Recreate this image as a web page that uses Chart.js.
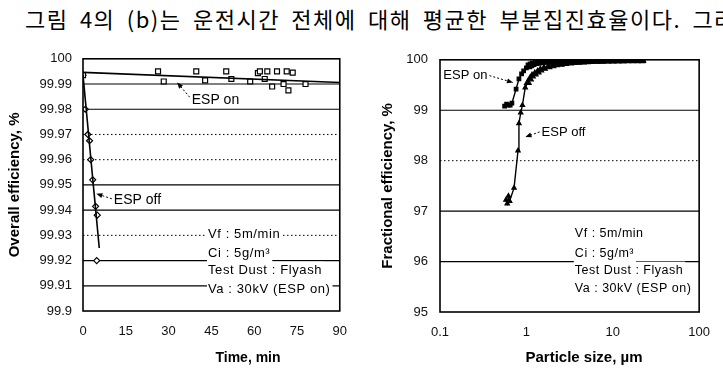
<!DOCTYPE html>
<html><head><meta charset="utf-8">
<script src="https://cdn.jsdelivr.net/npm/chart.js@4.4.1/dist/chart.umd.min.js"></script>
<style>
html,body{margin:0;padding:0;background:#fff;width:723px;height:370px;overflow:hidden;}
#cap{position:absolute;left:25px;top:3px;font-family:"Noto Sans CJK KR";font-size:22px;line-height:30px;white-space:nowrap;letter-spacing:1.5px;word-spacing:5px;color:#000;}
#w1{position:absolute;left:0;top:40px;width:360px;height:330px;}
#w2{position:absolute;left:360px;top:40px;width:363px;height:330px;}
</style></head><body>
<div id="cap">그림 4의 (b)는 운전시간 전체에 대해 평균한 부분집진효율이다. 그러</div>
<div id="w1"><canvas id="c1" width="360" height="330"></canvas></div>
<div id="w2"><canvas id="c2" width="363" height="330"></canvas></div>
<script>
// ---------- (a) Overall efficiency vs time ----------
const timeTicks = [0, 15, 30, 45, 60, 75, 90];
const timeTickLabels = ['0', '15', '30', '45', '60', '75', '90'];
const overallTicks = [99.9, 99.91, 99.92, 99.93, 99.94, 99.95, 99.96, 99.97, 99.98, 99.99, 100];
const overallTickLabels = ['99.9', '99.91', '99.92', '99.93', '99.94', '99.95', '99.96', '99.97', '99.98', '99.99', '100'];
const overallSolidGrid = [99.91, 99.92, 99.94, 99.95, 99.98, 99.99];
const overallDottedGrid = [99.93, 99.96, 99.97];

const espOnTime = [0, 26.3, 28.3, 39.7, 42.8, 50.2, 52, 58.6, 61.3, 62, 63.7, 64.6, 66.3, 68, 70.3, 71.4, 72, 73.5, 78];
const espOnOverall = [99.9935, 99.995, 99.991, 99.995, 99.9914, 99.995, 99.992, 99.991, 99.9943, 99.995, 99.992, 99.995, 99.989, 99.995, 99.990, 99.995, 99.9875, 99.9945, 99.990];
const espOnFitTime = [0, 90];
const espOnFitOverall = [99.9946, 99.9906];

const espOffTime = [0, 0.8, 1.7, 2.3, 2.7, 3.4, 4.4, 5.0, 4.8];
const espOffOverall = [99.9935, 99.98, 99.97, 99.9675, 99.96, 99.952, 99.9415, 99.938, 99.92];
const espOffFitTime = [0, 5.7];
const espOffFitOverall = [99.9935, 99.925];

// ---------- (b) Fractional efficiency vs particle size ----------
const sizeTicks = [0.1, 1, 10, 100];
const sizeTickLabels = ['0.1', '1', '10', '100'];
const fracTicks = [95, 96, 97, 98, 99, 100];
const fracTickLabels = ['95', '96', '97', '98', '99', '100'];
const fracSolidGrid = [96, 97, 99];
const fracDottedGrid = [98];

const espOnSize = [0.56, 0.59, 0.62, 0.65, 0.68, 0.76, 0.82, 0.88, 0.93, 1.0, 1.07, 1.13, 1.2, 1.3, 1.4, 1.5, 1.65, 1.8, 2.0, 2.2, 2.5, 2.8, 3.2, 3.6, 4.0, 4.5, 5.0, 5.6, 6.3, 7.1, 8.0, 9.0, 10, 11.5, 13, 15, 17, 19.5, 22];
const espOnFrac = [99.08, 99.12, 99.1, 99.1, 99.14, 99.42, 99.62, 99.72, 99.78, 99.84, 99.88, 99.9, 99.92, 99.94, 99.95, 99.96, 99.965, 99.97, 99.975, 99.98, 99.982, 99.985, 99.987, 99.989, 99.99, 99.991, 99.992, 99.993, 99.994, 99.994, 99.995, 99.995, 99.996, 99.996, 99.997, 99.997, 99.998, 99.998, 99.998];

const espOffSize = [0.58, 0.6, 0.62, 0.64, 0.72, 0.80, 0.82, 0.86, 0.90, 0.97, 1.04, 1.1, 1.16, 1.25, 1.35, 1.45, 1.6, 1.8, 2.0, 2.2, 2.5, 2.8, 3.2, 3.6, 4.0, 4.5, 5.0, 5.7, 6.5, 7.5, 8.5, 10, 11.5, 13, 15, 17, 19.5, 22];
const espOffFrac = [97.22, 97.15, 97.3, 97.2, 97.46, 98.2, 98.74, 98.95, 99.1, 99.45, 99.55, 99.62, 99.68, 99.72, 99.76, 99.8, 99.83, 99.86, 99.88, 99.9, 99.91, 99.925, 99.935, 99.945, 99.95, 99.955, 99.96, 99.965, 99.97, 99.972, 99.975, 99.977, 99.98, 99.982, 99.984, 99.986, 99.988, 99.99];

const noteLines = ['Vf : 5m/min', 'Ci : 5g/m³', 'Test Dust : Flyash', 'Va : 30kV (ESP on)'];

// ---------- helpers ----------
const FONT = '"Liberation Sans", Arial, sans-serif';
const pts = (xs, ys) => xs.map((x, i) => ({x: x, y: ys[i]}));

function drawArrowLeader(ctx, x0, y0, x1, y1) {
  ctx.save();
  ctx.strokeStyle = '#000';
  ctx.lineWidth = 1;
  ctx.setLineDash([2, 2]);
  ctx.beginPath(); ctx.moveTo(x0, y0); ctx.lineTo(x1, y1); ctx.stroke();
  ctx.setLineDash([]);
  const ang = Math.atan2(y1 - y0, x1 - x0);
  const L = 6, W = 2.5;
  ctx.fillStyle = '#000';
  ctx.beginPath();
  ctx.moveTo(x1, y1);
  ctx.lineTo(x1 - L * Math.cos(ang) + W * Math.sin(ang), y1 - L * Math.sin(ang) - W * Math.cos(ang));
  ctx.lineTo(x1 - L * Math.cos(ang) - W * Math.sin(ang), y1 - L * Math.sin(ang) + W * Math.cos(ang));
  ctx.closePath(); ctx.fill();
  ctx.restore();
}

const deco = {
  id: 'deco',
  beforeDatasetsDraw(chart, args, o) {
    const {ctx, chartArea: a, scales: {x, y}} = chart;
    ctx.save();
    ctx.strokeStyle = '#000';
    ctx.lineWidth = 1.2;
    o.solid.forEach(v => {
      const py = y.getPixelForValue(v);
      ctx.setLineDash([]);
      ctx.beginPath(); ctx.moveTo(a.left, py); ctx.lineTo(a.right, py); ctx.stroke();
    });
    ctx.lineWidth = 1;
    o.dotted.forEach(v => {
      const py = y.getPixelForValue(v);
      ctx.setLineDash([1.5, 2.5]);
      ctx.beginPath(); ctx.moveTo(a.left, py); ctx.lineTo(a.right, py); ctx.stroke();
    });
    ctx.setLineDash([]);
    // note block
    ctx.font = o.noteFont + ' ' + FONT;
    ctx.letterSpacing = o.noteSpacing;
    ctx.textBaseline = 'middle';
    ctx.textAlign = 'left';
    const nx = x.getPixelForValue(o.noteX);
    o.notes.forEach((t, i) => {
      const ny = y.getPixelForValue(o.noteY[i]);
      const w = ctx.measureText(t).width;
      ctx.fillStyle = '#fff';
      ctx.fillRect(nx - 1, ny - 9, w + 3, 18);
      ctx.fillStyle = '#000';
      ctx.fillText(t, nx, ny);
    });
    ctx.restore();
  },
  afterDatasetsDraw(chart, args, o) {
    const {ctx, chartArea: a, scales: {x, y}} = chart;
    ctx.save();
    // frame
    ctx.strokeStyle = '#000';
    ctx.lineWidth = 1.6;
    ctx.strokeRect(a.left, a.top, a.right - a.left, a.bottom - a.top);
    // series labels with leaders
    ctx.font = o.labelFont + ' ' + FONT;
    ctx.textBaseline = 'middle';
    ctx.fillStyle = '#000';
    o.labels.forEach(l => {
      const tx = x.getPixelForValue(l.tx), ty = y.getPixelForValue(l.ty);
      const ax = x.getPixelForValue(l.ax), ay = y.getPixelForValue(l.ay);
      ctx.textAlign = l.align;
      ctx.fillText(l.text, tx, ty);
      const sx = l.align === 'left' ? tx - 2 : tx + 2;
      drawArrowLeader(ctx, sx, ty + l.dy, ax, ay);
    });
    // x-axis title
    ctx.font = o.xTitleFont + ' ' + FONT;
    ctx.textAlign = 'center';
    ctx.fillText(o.xTitle, o.xTitleX, o.xTitleY);
    ctx.restore();
  }
};

function makeChart(id, cfg) {
  return new Chart(document.getElementById(id), {
    type: 'scatter',
    data: {datasets: cfg.datasets},
    plugins: [deco],
    options: {
      responsive: false,
      animation: false,
      layout: {padding: {top: cfg.padTop, right: cfg.padRight, left: 0, bottom: 0}},
      plugins: {legend: {display: false}, tooltip: {enabled: false}, deco: cfg.deco},
      scales: {
        x: {
          type: cfg.xType, min: cfg.xMin, max: cfg.xMax,
          afterFit: s => { s.height = cfg.xAxisH; },
          afterBuildTicks: s => { s.ticks = cfg.xTicks.map(v => ({value: v})); },
          grid: {display: false, drawTicks: false},
          border: {display: false},
          ticks: {
            autoSkip: false, maxRotation: 0, padding: 13, color: '#111',
            font: {family: FONT, size: 13},
            callback: (v, i) => cfg.xLabels[i]
          }
        },
        y: {
          type: 'linear', min: cfg.yMin, max: cfg.yMax,
          afterFit: s => { s.width = cfg.yAxisW; },
          afterBuildTicks: s => { s.ticks = cfg.yTicks.map(v => ({value: v})); },
          grid: {display: false, drawTicks: false},
          border: {display: false},
          ticks: {
            autoSkip: false, padding: cfg.yTickPad, color: '#111',
            font: {family: FONT, size: 13},
            callback: (v, i) => cfg.yLabels[i]
          },
          title: {
            display: true, text: cfg.yTitle, color: '#000',
            font: {family: FONT, size: 15, weight: 'bold'},
            padding: {top: cfg.yTitlePad, bottom: 0}
          }
        }
      }
    }
  });
}

makeChart('c1', {
  xType: 'linear', xMin: 0, xMax: 90, xTicks: timeTicks, xLabels: timeTickLabels,
  yMin: 99.9, yMax: 100, yTicks: overallTicks, yLabels: overallTickLabels,
  yTitle: 'Overall efficiency, %', yTitlePad: 6, yTickPad: 11,
  yAxisW: 83, xAxisH: 59, padTop: 15, padRight: 10,
  datasets: [
    {label: 'ESP on fit', data: pts(espOnFitTime, espOnFitOverall), showLine: true, pointRadius: 0, borderColor: '#000', borderWidth: 1.6},
    {label: 'ESP off fit', data: pts(espOffFitTime, espOffFitOverall), showLine: true, pointRadius: 0, borderColor: '#000', borderWidth: 1.6},
    {label: 'ESP on', data: pts(espOnTime, espOnOverall), pointStyle: 'rect', pointRadius: 3.5, pointBackgroundColor: '#fff', pointBorderColor: '#000', pointBorderWidth: 1.2},
    {label: 'ESP off', data: pts(espOffTime, espOffOverall), pointStyle: 'rectRot', pointRadius: 3, pointBackgroundColor: '#fff', pointBorderColor: '#000', pointBorderWidth: 1.2}
  ],
  deco: {
    solid: overallSolidGrid, dotted: overallDottedGrid,
    notes: noteLines, noteX: 43.8, noteY: [99.9305, 99.923, 99.916, 99.9086],
    noteFont: '13px', noteSpacing: '0.6px',
    labelFont: '14px',
    labels: [
      {text: 'ESP on', tx: 38.1, ty: 99.9836, ax: 33, ay: 99.9906, align: 'left', dy: -3},
      {text: 'ESP off', tx: 10.8, ty: 99.9441, ax: 4.7, ay: 99.9465, align: 'left', dy: -1}
    ],
    xTitle: 'Time, min', xTitleFont: 'bold 14px', xTitleX: 248, xTitleY: 318
  }
});

const bandRadius = c => (c.raw && c.raw.x > 1 ? 3.8 : 2.5);
makeChart('c2', {
  xType: 'logarithmic', xMin: 0.1, xMax: 100, xTicks: sizeTicks, xLabels: sizeTickLabels,
  yMin: 95, yMax: 100, yTicks: fracTicks, yLabels: fracTickLabels,
  yTitle: 'Fractional efficiency, %', yTitlePad: 19, yTickPad: 12,
  yAxisW: 80, xAxisH: 58, padTop: 17, padRight: 10,
  datasets: [
    {label: 'ESP on', data: pts(espOnSize, espOnFrac), showLine: true, borderColor: '#000', borderWidth: 1.4, pointStyle: 'rect', pointRadius: bandRadius, pointBackgroundColor: '#000', pointBorderColor: '#000', pointBorderWidth: 1.2},
    {label: 'ESP off', data: pts(espOffSize, espOffFrac), showLine: true, borderColor: '#000', borderWidth: 1.4, pointStyle: 'triangle', pointRadius: bandRadius, pointBackgroundColor: '#000', pointBorderColor: '#000', pointBorderWidth: 1.2}
  ],
  deco: {
    solid: fracSolidGrid, dotted: fracDottedGrid,
    notes: noteLines, noteX: 3.64, noteY: [96.55, 96.16, 95.82, 95.47],
    noteFont: '12.5px', noteSpacing: '0.5px',
    labelFont: '13px',
    labels: [
      {text: 'ESP on', tx: 0.354, ty: 99.686, ax: 0.70, ay: 99.55, align: 'right', dy: 0},
      {text: 'ESP off', tx: 1.5, ty: 98.57, ax: 0.975, ay: 98.47, align: 'left', dy: 0}
    ],
    xTitle: 'Particle size, \u00b5m', xTitleFont: 'bold 15px', xTitleX: 224, xTitleY: 318
  }
});
</script>
</body></html>
